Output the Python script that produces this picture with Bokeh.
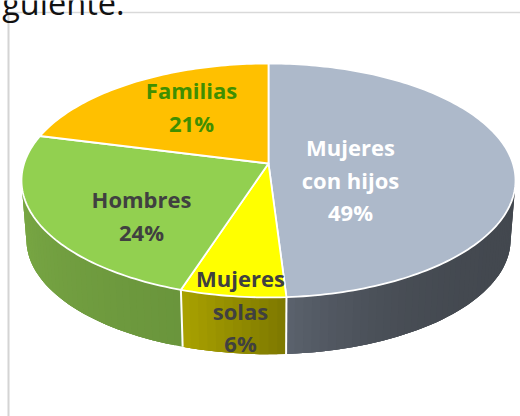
import math
from bokeh.models import Range1d, Label
from bokeh.plotting import figure
from bokeh.embed import file_html
from bokeh.resources import INLINE

categories = ["Mujeres con hijos", "Mujeres solas", "Hombres", "Familias"]
shares = [49, 6, 24, 21]
top_colors = ["#ADB9CA", "#FFFF00", "#92D050", "#FFC000"]
side_from = ["#43484F", "#7F7A00", "#6A953C", "#79A844"]
side_to = ["#5A616C", "#A8A000", "#79A844", "#79A844"]
side_power = [4, 1, 1, 1]
label_lines = [["Mujeres", "con hijos", "49%"], ["Mujeres", "solas", "6%"], ["Hombres", "24%"], ["Familias", "21%"]]
label_colors = ["#FFFFFF", "#404040", "#404040", "#3F8F00"]
label_xy = [(350, 179), (240, 310), (141, 215), (191, 106)]

W, H = 520, 416
CX, CY, RX, RY, K = 268, 163, 244.4, 114.5, 0.145
S, DROP = 0.98, 59.5


def rim(theta, bottom=False):
    u, v = math.sin(theta), math.cos(theta)
    d = 1 + K * v
    if bottom:
        return CX + S * RX * u / d, CY + DROP - S * RY * v / d
    return CX + RX * u / d, CY - RY * v / d


def mix(a, b, t):
    ca = [int(a[i:i + 2], 16) for i in (1, 3, 5)]
    cb = [int(b[i:i + 2], 16) for i in (1, 3, 5)]
    return "#%02x%02x%02x" % tuple(round(p + (q - p) * t) for p, q in zip(ca, cb))


p = figure(width=W, height=H, x_range=Range1d(0, W), y_range=Range1d(H, 0),
           output_backend="svg", toolbar_location=None, min_border=0,
           outline_line_color=None, x_axis_type=None, y_axis_type=None)
p.grid.visible = False

# frame of the embedded picture
p.line([8, 8], [H, 12], line_color="#D4D4D4", line_width=2)
p.line([8, W], [12, 12], line_color="#D9D9D9", line_width=1.5)

# clipped last line of the surrounding text
p.add_layout(Label(x=-22, y=1.5, text="siguiente.", text_font="Open Sans",
                   text_font_size="32.5px", text_color="#111111", text_baseline="alphabetic"))

edges = [0.0]
for s in shares:
    edges.append(edges[-1] + s / sum(shares) * 2 * math.pi)

RIGHT = math.acos(-K)
LEFT = 2 * math.pi - RIGHT

# side wall: overlapping strips, painted in order, so no seams show
for i in range(len(shares)):
    a, b = max(edges[i], RIGHT), min(edges[i + 1], LEFT)
    if a >= b:
        continue
    n = max(4, int((b - a) / 0.03))
    xs, ys, cs = [], [], []
    for j in range(n):
        t0 = a + (b - a) * j / n
        t1 = min(b, t0 + 3 * (b - a) / n)
        arc = [t0 + (t1 - t0) * m / 3 for m in range(4)]
        pts = [rim(t) for t in arc] + [rim(t, True) for t in reversed(arc)]
        xs.append([q[0] for q in pts])
        ys.append([q[1] for q in pts])
        cs.append(mix(side_from[i], side_to[i], (j / max(1, n - 1)) ** side_power[i]))
    p.patches(xs, ys, fill_color=cs, line_color=None)

for end in edges:
    if RIGHT < end < LEFT:
        q0, q1 = rim(end), rim(end, True)
        p.line([q0[0], q1[0]], [q0[1], q1[1]], line_color="#FFFFFF", line_width=2)

# top face
for i in range(len(shares)):
    n = max(8, int((edges[i + 1] - edges[i]) / 0.02))
    pts = [rim(edges[i] + (edges[i + 1] - edges[i]) * j / n) for j in range(n + 1)]
    xs = [CX] + [q[0] for q in pts]
    ys = [CY] + [q[1] for q in pts]
    p.patch(xs, ys, fill_color=top_colors[i], line_color="#FFFFFF", line_width=1.8,
            line_join="round")

# labels
for lines, col, (lx, ly) in zip(label_lines, label_colors, label_xy):
    for k, t in enumerate(lines):
        p.add_layout(Label(x=lx, y=ly + (k - (len(lines) - 1) / 2) * 32.5, text=t,
                           text_font="Open Sans", text_font_style="bold", text_font_size="22px",
                           text_color=col, text_align="center", text_baseline="middle"))

open("out.html", "w").write(file_html(p, INLINE))
